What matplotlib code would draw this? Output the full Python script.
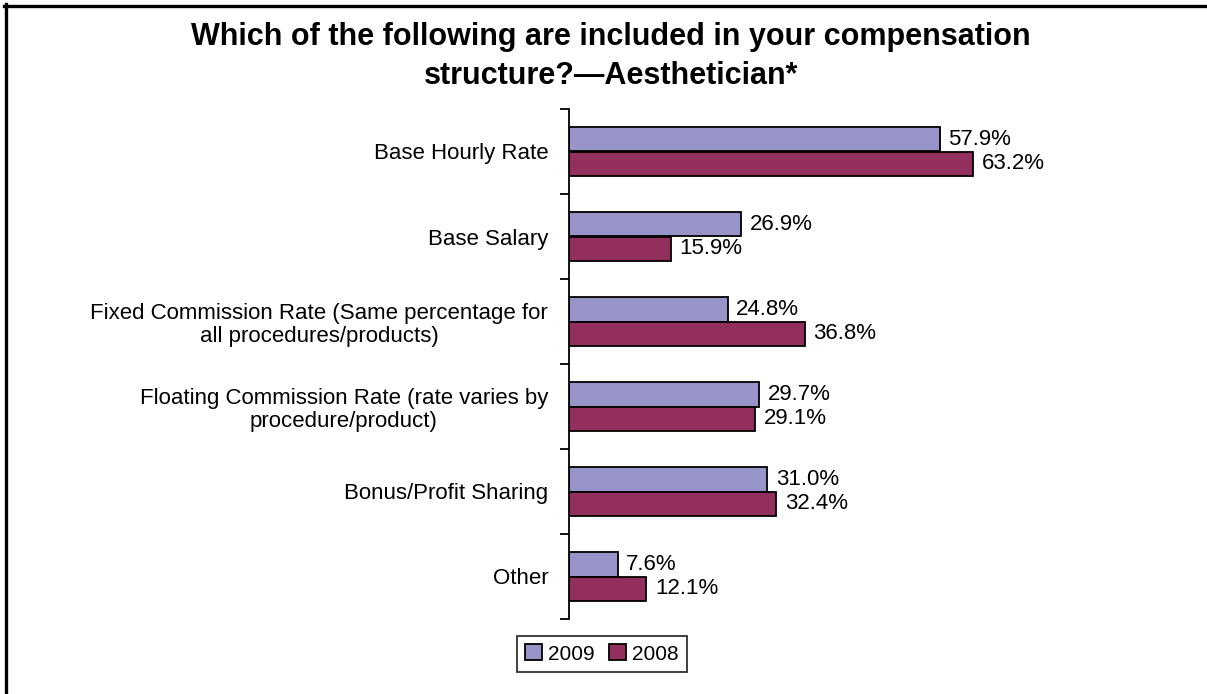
import matplotlib
matplotlib.use('Agg')
import matplotlib.pyplot as plt
import numpy as np
from matplotlib.patches import Patch
from matplotlib.lines import Line2D

categories = ['Base Hourly Rate',
              'Base Salary',
              'Fixed Commission Rate (Same percentage for\nall procedures/products)',
              'Floating Commission Rate (rate varies by\nprocedure/product)',
              'Bonus/Profit Sharing',
              'Other']
series_names = ['2009', '2008']
values_2009 = [57.9, 26.9, 24.8, 29.7, 31.0, 7.6]
values_2008 = [63.2, 15.9, 36.8, 29.1, 32.4, 12.1]

plt.rcParams['font.family'] = ['Liberation Sans', 'DejaVu Sans']

W, H = 1207, 694
fig = plt.figure(figsize=(W / 100, H / 100), dpi=100)
fig.patch.set_facecolor('white')

# plot area: y axis line at x=569, categories between y=109 and y=619
ax = fig.add_axes((569 / W, (H - 619) / H, 576 / W, 510 / H))

colors = ['#9694C8', '#922F5D']
bar_h = 0.285
y = np.arange(len(categories))
for i, (vals, c) in enumerate(zip([values_2009, values_2008], colors)):
    pos = y - bar_h / 2 + i * bar_h
    bars = ax.barh(pos, vals, height=bar_h, color=c, edgecolor='black', linewidth=1.3)
    for b, v in zip(bars, vals):
        ax.annotate('%.1f%%' % v, (b.get_width(), b.get_y() + b.get_height() / 2),
                    xytext=(6, 0), textcoords='offset points',
                    va='center', ha='left', fontsize=16)

ax.set_xlim(0, 90)
ax.set_ylim(len(categories) - 0.5, -0.5)
for s in ['top', 'right', 'bottom']:
    ax.spines[s].set_visible(False)
ax.spines['left'].set_linewidth(1.3)
ax.set_xticks([])
ax.set_yticks(y)
ax.set_yticklabels(categories, fontsize=16, multialignment='center', linespacing=1.15)
ax.set_yticks(np.arange(len(categories) + 1) - 0.5, minor=True)
ax.tick_params(axis='y', which='major', length=0, pad=15)
ax.tick_params(axis='y', which='minor', length=6.5, width=1.3, direction='out')

fig.text(0.506, 1 - 22 / H, 'Which of the following are included in your compensation\nstructure?\u2014Aesthetician*',
         ha='center', va='top', fontsize=22, fontweight='bold', linespacing=1.4)

handles = [Patch(facecolor=c, edgecolor='black', linewidth=1.3) for c in colors]
leg = fig.legend(handles, series_names, loc='upper center', bbox_to_anchor=(602 / W, 1 - 636 / H),
                 ncol=2, fontsize=15, frameon=True, fancybox=False, handlelength=0.8,
                 handleheight=0.8, handletextpad=0.3, columnspacing=0.7, borderpad=0.4,
                 borderaxespad=0)
leg.get_frame().set_edgecolor('black')
leg.get_frame().set_linewidth(1.3)

# outer frame: left and top edges
fig.add_artist(Line2D([5.5 / W, 5.5 / W], [0, 1 - 4 / H], color='black', linewidth=2.4,
                      transform=fig.transFigure))
fig.add_artist(Line2D([4 / W, 1], [1 - 6 / H, 1 - 6 / H], color='black', linewidth=2.4,
                      transform=fig.transFigure))

fig.savefig('out.png', dpi=100)
